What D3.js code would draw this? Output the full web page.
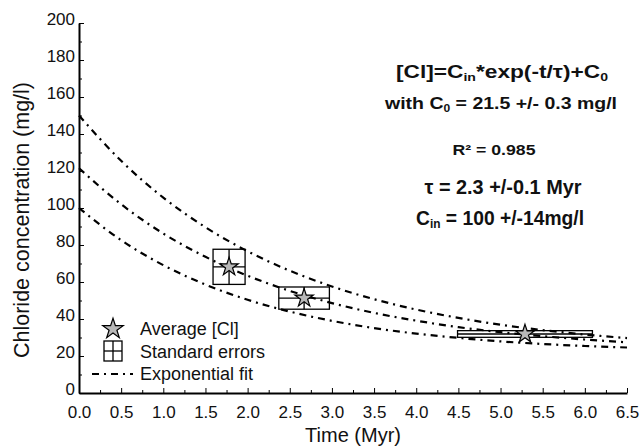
<!DOCTYPE html>
<html lang="en">
<head>
<meta charset="UTF-8">
<title>Chloride concentration vs time</title>
<script src="https://d3js.org/d3.v7.min.js"></script>
<style>
    body { margin: 0; padding: 0; background: #fff; }
    svg { display: block; font-family: "Liberation Sans", Arial, sans-serif; }
    .axis path, .axis line { stroke: #000; }
    .axis text { font-size: 17px; fill: #111; }
</style>
</head>
<body>
<div id="chart"></div>
<script>
    // averages with standard errors
    const timeAvg = [1.78, 2.67, 5.29];
    const clAvg   = [68.2, 51.3, 31.9];
    const timeErr = [0.19, 0.30, 0.80];
    const clErr   = [9.5, 6.0, 1.8];

    // exponential fit and its envelope, sampled off the figure
    const fitTime  = [0, 0.5, 1, 1.5, 2, 2.5, 3, 3.5, 4, 4.5, 5, 5.5, 6, 6.5];
    const fitUpper = [150, 125.5, 105.6, 89.6, 76.6, 66.1, 57.6, 50.7, 45.1, 40.6, 36.9, 34.0, 31.6, 29.7];
    const fitMid   = [121.5, 102, 86.2, 73.6, 63.4, 55.2, 48.6, 43.3, 39.1, 35.6, 32.9, 30.7, 28.9, 27.4];
    const fitLower = [100, 82.6, 69.1, 58.6, 50.4, 44.0, 39.0, 35.1, 32.1, 29.8, 27.9, 26.5, 25.4, 24.6];

    const xTicks = d3.range(0, 6.51, 0.5);
    const yTicks = d3.range(0, 201, 20);

    const W = 641, H = 446;
    const margin = { top: 23, right: 14, bottom: 53, left: 79 };
    const width = W - margin.left - margin.right,
          height = H - margin.top - margin.bottom;

    const svg = d3.select("#chart").append("svg")
        .attr("width", W).attr("height", H);

    const g = svg.append("g")
        .attr("transform", `translate(${margin.left},${margin.top})`);

    const x = d3.scaleLinear().domain([0, 6.5]).range([0, width]);
    const y = d3.scaleLinear().domain([0, 200]).range([height, 0]);

    // minor ticks
    g.append("g").attr("class", "axis")
        .attr("transform", `translate(0,${height})`)
        .call(d3.axisBottom(x).tickValues(d3.range(0.25, 6.5, 0.5)).tickSize(-3).tickFormat(""))
        .call(a => a.select(".domain").remove());
    g.append("g").attr("class", "axis")
        .call(d3.axisLeft(y).tickValues(d3.range(10, 200, 20)).tickSize(-3).tickFormat(""))
        .call(a => a.select(".domain").remove());

    // major axes
    g.append("g").attr("class", "axis")
        .attr("transform", `translate(0,${height})`)
        .call(d3.axisBottom(x).tickValues(xTicks).tickSize(-5).tickSizeOuter(0)
            .tickPadding(7).tickFormat(d3.format(".1f")))
        .call(a => a.select(".domain").attr("stroke-width", 2))
        .call(a => a.selectAll("text").attr("dy", "1.05em"));
    g.append("g").attr("class", "axis")
        .call(d3.axisLeft(y).tickValues(yTicks).tickSize(-5).tickSizeOuter(0).tickPadding(4))
        .call(a => a.select(".domain").attr("stroke-width", 2))
        .call(a => a.selectAll("text").attr("dy", "0.1em"));

    // axis titles
    svg.append("text")
        .attr("transform", `translate(29,${margin.top + height / 2 + 12}) rotate(-90)`)
        .attr("text-anchor", "middle")
        .attr("font-size", 21.5).attr("fill", "#111")
        .text("Chloride concentration (mg/l)");
    svg.append("text")
        .attr("x", margin.left + width / 2).attr("y", 442)
        .attr("text-anchor", "middle")
        .attr("font-size", 20).attr("fill", "#111")
        .text("Time (Myr)");

    // fit curves
    const line = d3.line()
        .x(d => x(d[0]))
        .y(d => y(d[1]))
        .curve(d3.curveMonotoneX);
    [fitUpper, fitMid, fitLower].forEach(series => {
        g.append("path")
            .datum(fitTime.map((t, i) => [t, series[i]]))
            .attr("d", line)
            .attr("fill", "none")
            .attr("stroke", "#000")
            .attr("stroke-width", 2.2)
            .attr("stroke-dasharray", "7,5,2,5");
    });

    // standard error boxes
    const pts = timeAvg.map((t, i) => ({ t: t, c: clAvg[i], et: timeErr[i], ec: clErr[i] }));
    const boxes = g.selectAll(".se").data(pts).enter().append("g").attr("class", "se");
    boxes.append("rect")
        .attr("x", d => x(d.t - d.et))
        .attr("y", d => y(d.c + d.ec))
        .attr("width", d => x(d.t + d.et) - x(d.t - d.et))
        .attr("height", d => y(d.c - d.ec) - y(d.c + d.ec))
        .attr("fill", "none").attr("stroke", "#000").attr("stroke-width", 1.3);
    boxes.append("line")
        .attr("x1", d => x(d.t)).attr("x2", d => x(d.t))
        .attr("y1", d => y(d.c + d.ec)).attr("y2", d => y(d.c - d.ec))
        .attr("stroke", "#000").attr("stroke-width", 1.3);
    boxes.append("line")
        .attr("x1", d => x(d.t - d.et)).attr("x2", d => x(d.t + d.et))
        .attr("y1", d => y(d.c)).attr("y2", d => y(d.c))
        .attr("stroke", "#000").attr("stroke-width", 1.3);

    // average stars
    const star = d3.symbol().type(d3.symbolStar).size(105);
    g.selectAll(".star").data(pts).enter().append("path")
        .attr("class", "star")
        .attr("transform", d => `translate(${x(d.t)},${y(d.c)})`)
        .attr("d", star)
        .attr("fill", "#b8b8b8").attr("stroke", "#000").attr("stroke-width", 1.2);

    // legend
    const lg = svg.append("g").attr("font-size", 18).attr("fill", "#111");
    lg.append("path").attr("transform", "translate(113,329)").attr("d", d3.symbol().type(d3.symbolStar).size(130))
        .attr("fill", "#b8b8b8").attr("stroke", "#000").attr("stroke-width", 1.2);
    lg.append("text").attr("x", 140).attr("y", 335).text("Average [Cl]");
    lg.append("rect").attr("x", 104).attr("y", 341).attr("width", 18).attr("height", 20)
        .attr("fill", "none").attr("stroke", "#000").attr("stroke-width", 1.3);
    lg.append("line").attr("x1", 113).attr("x2", 113).attr("y1", 341).attr("y2", 361)
        .attr("stroke", "#000").attr("stroke-width", 1.3);
    lg.append("line").attr("x1", 104).attr("x2", 122).attr("y1", 351).attr("y2", 351)
        .attr("stroke", "#000").attr("stroke-width", 1.3);
    lg.append("text").attr("x", 140).attr("y", 358).text("Standard errors");
    lg.append("line").attr("x1", 92).attr("x2", 133).attr("y1", 374).attr("y2", 374)
        .attr("stroke", "#000").attr("stroke-width", 2.2).attr("stroke-dasharray", "7,5,2,5");
    lg.append("text").attr("x", 140).attr("y", 380).text("Exponential fit");

    // fit annotation
    const ann = svg.append("g").attr("font-weight", "bold").attr("fill", "#111")
        .attr("text-anchor", "middle");
    const sub = (t, s) => t.append("tspan").attr("font-size", "62%").attr("dy", 3).text(s);
    const back = (t, s) => t.append("tspan").attr("dy", -3).text(s);
    const fitWidth = (t, w) => t.attr("textLength", w).attr("lengthAdjust", "spacingAndGlyphs");

    let t1 = ann.append("text").attr("x", 502).attr("y", 78).attr("font-size", 19);
    t1.append("tspan").text("[Cl]=C");
    sub(t1, "in");
    back(t1, "*exp(-t/\u03c4)+C");
    sub(t1, "0");
    fitWidth(t1, 212);

    let t2 = ann.append("text").attr("x", 501).attr("y", 109).attr("font-size", 17);
    t2.append("tspan").text("with C");
    sub(t2, "0");
    back(t2, " = 21.5 +/- 0.3 mg/l");
    fitWidth(t2, 232);

    fitWidth(ann.append("text").attr("x", 494).attr("y", 155).attr("font-size", 15)
        .text("R\u00b2 = 0.985"), 83);

    fitWidth(ann.append("text").attr("x", 503).attr("y", 194).attr("font-size", 19.5)
        .text("\u03c4 = 2.3 +/-0.1 Myr"), 157);

    let t5 = ann.append("text").attr("x", 500).attr("y", 225).attr("font-size", 19.5);
    t5.append("tspan").text("C");
    sub(t5, "in");
    back(t5, " = 100 +/-14mg/l");
    fitWidth(t5, 168);
</script>
</body>
</html>
